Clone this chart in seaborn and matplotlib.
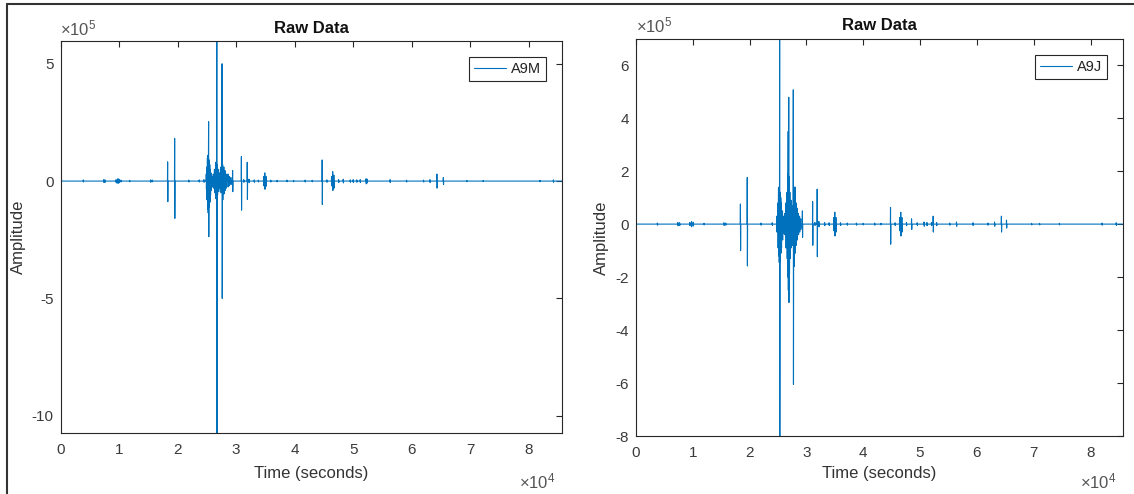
import numpy as np
import pandas as pd
import matplotlib
matplotlib.use("Agg")
import matplotlib.pyplot as plt
import seaborn as sns
from matplotlib.lines import Line2D

# ---------------- data (time in 1e4 s, amplitude in 1e5) ----------------
a9m_times = [0.39, 0.74, 0.76, 0.95, 0.98, 1.00, 1.03, 1.18, 1.54, 1.57, 1.83, 1.95, 2.19, 2.37, 2.45,
             2.49, 2.50, 2.51, 2.52, 2.53, 2.54, 2.55, 2.56, 2.57, 2.59, 2.61, 2.63, 2.65, 2.67, 2.68,
             2.70, 2.72, 2.74, 2.76, 2.77, 2.79, 2.81, 2.83, 2.86, 2.88, 2.91, 2.94,
             3.09, 3.13, 3.19, 3.22, 3.31, 3.38, 3.47, 3.49, 3.51, 3.59, 3.70, 3.87, 3.98, 4.18, 4.30,
             4.47, 4.55, 4.63, 4.65, 4.67, 4.75, 4.83, 4.95, 5.00, 5.06, 5.12, 5.22, 5.24, 5.63, 5.91,
             6.20, 6.31, 6.43, 6.54, 6.94, 7.22, 8.19, 8.42]
a9m_up = [0.05, 0.06, 0.05, 0.06, 0.10, 0.08, 0.04, 0.03, 0.05, 0.04, 0.82, 1.82, 0.04, 0.05, 0.06,
          0.30, 0.60, 1.00, 1.10, 2.53, 0.90, 0.70, 0.50, 0.35, 0.20, 0.30, 0.50, 0.80, 5.97, 0.70,
          0.50, 0.35, 0.60, 5.00, 0.70, 0.60, 0.45, 0.30, 0.30, 0.20, 0.15, 0.45,
          1.04, 0.06, 0.80, 0.08, 0.05, 0.04, 0.20, 0.35, 0.20, 0.04, 0.03, 0.04, 0.03, 0.04, 0.03,
          0.90, 0.05, 0.20, 0.40, 0.25, 0.06, 0.08, 0.05, 0.06, 0.05, 0.06, 0.10, 0.08, 0.06, 0.04,
          0.04, 0.06, 0.30, 0.15, 0.02, 0.02, 0.03, 0.05]
a9m_down = [-0.04, -0.06, -0.05, -0.08, -0.10, -0.07, -0.04, -0.03, -0.05, -0.03, -0.88, -1.59, -0.04, -0.04, -0.05,
            -0.35, -0.80, -1.20, -1.36, -2.37, -1.10, -0.90, -0.60, -0.40, -0.25, -0.30, -0.50, -0.75, -10.75, -0.60,
            -0.45, -0.30, -0.50, -5.00, -0.80, -0.55, -0.40, -0.30, -0.25, -0.20, -0.15, -0.45,
            -1.24, -0.05, -0.78, -0.07, -0.05, -0.04, -0.20, -0.35, -0.22, -0.04, -0.03, -0.03, -0.03, -0.04, -0.03,
            -1.00, -0.05, -0.20, -0.40, -0.30, -0.06, -0.08, -0.05, -0.06, -0.05, -0.06, -0.12, -0.08, -0.06, -0.04,
            -0.04, -0.06, -0.30, -0.15, -0.02, -0.02, -0.03, -0.05]

a9j_times = [0.38, 0.74, 0.77, 0.95, 0.98, 1.01, 1.20, 1.55, 1.58, 1.84, 1.96, 2.20, 2.40,
             2.48, 2.50, 2.51, 2.52, 2.53, 2.54, 2.55, 2.56, 2.58, 2.60, 2.62, 2.64, 2.66, 2.67, 2.68,
             2.69, 2.70, 2.71, 2.73, 2.75, 2.77, 2.78, 2.80, 2.82, 2.84, 2.86, 2.88, 2.90, 2.93,
             3.11, 3.15, 3.19, 3.22, 3.32, 3.40, 3.48, 3.50, 3.52, 3.60, 3.72, 3.88, 4.00, 4.20, 4.31,
             4.48, 4.56, 4.64, 4.66, 4.68, 4.76, 4.85, 4.95, 5.07, 5.12, 5.20, 5.23, 5.29, 5.52, 5.64,
             5.93, 6.19, 6.31, 6.43, 6.52, 6.96, 7.10, 7.45, 8.20, 8.45]
a9j_up = [0.04, 0.06, 0.05, 0.06, 0.10, 0.07, 0.03, 0.05, 0.04, 0.76, 1.76, 0.04, 0.05,
          0.30, 0.80, 1.39, 1.10, 7.00, 1.20, 1.00, 0.80, 0.50, 0.30, 0.40, 0.80, 1.20, 1.90, 3.50,
          4.79, 1.80, 1.20, 0.90, 0.70, 5.07, 1.40, 1.40, 0.80, 0.60, 0.40, 0.30, 0.20, 0.50,
          0.85, 0.06, 1.32, 0.10, 0.06, 0.05, 0.25, 0.45, 0.25, 0.05, 0.04, 0.04, 0.03, 0.04, 0.03,
          0.63, 0.05, 0.25, 0.45, 0.25, 0.06, 0.20, 0.05, 0.08, 0.06, 0.06, 0.30, 0.06, 0.04, 0.08,
          0.05, 0.04, 0.08, 0.30, 0.15, 0.03, 0.03, 0.03, 0.04, 0.05]
a9j_down = [-0.04, -0.06, -0.05, -0.06, -0.10, -0.07, -0.03, -0.05, -0.04, -1.00, -1.58, -0.04, -0.05,
            -0.30, -0.90, -1.20, -1.45, -8.00, -1.40, -1.10, -0.90, -0.60, -0.35, -0.40, -0.90, -1.30, -2.00, -2.50,
            -2.96, -1.90, -1.30, -0.90, -0.80, -6.05, -1.60, -1.10, -0.80, -0.60, -0.40, -0.30, -0.20, -0.50,
            -0.80, -0.05, -1.23, -0.10, -0.06, -0.05, -0.25, -0.45, -0.30, -0.05, -0.04, -0.04, -0.03, -0.04, -0.03,
            -0.76, -0.05, -0.25, -0.45, -0.30, -0.06, -0.20, -0.05, -0.08, -0.06, -0.06, -0.30, -0.06, -0.04, -0.08,
            -0.05, -0.04, -0.08, -0.30, -0.15, -0.03, -0.03, -0.03, -0.04, -0.05]

record_end = 8.56  # 1e4 s

x_ticks = [0, 1, 2, 3, 4, 5, 6, 7, 8]
x_tick_labels = ["0", "1", "2", "3", "4", "5", "6", "7", "8"]
a9m_yticks = [-10, -5, 0, 5]
a9m_yticklabels = ["-10", "-5", "0", "5"]
a9j_yticks = [-8, -6, -4, -2, 0, 2, 4, 6]
a9j_yticklabels = ["-8", "-6", "-4", "-2", "0", "2", "4", "6"]


def build_series(times, up, down, t_end):
    dt = 30.0
    xs, ys = [0.0], [0.0]
    for t, u, d in zip(times, up, down):
        t = t * 1e4
        xs += [t - dt, t, t + dt, t + 2 * dt]
        ys += [0.0, u * 1e5, d * 1e5, 0.0]
    xs.append(t_end * 1e4)
    ys.append(0.0)
    return pd.DataFrame({"Time": xs, "Amplitude": ys})


sns.set_style("white")
plt.rcParams["font.family"] = ["Liberation Sans", "DejaVu Sans"]
plt.rcParams["mathtext.fontset"] = "custom"
plt.rcParams["mathtext.rm"] = "Liberation Sans"
plt.rcParams["mathtext.it"] = "Liberation Sans"

W, H = 1134, 494
fig = plt.figure(figsize=(W / 100, H / 100), dpi=100)
fig.patch.set_facecolor("white")

BLUE = "#0072BD"
AXC = "#262626"

panels = [
    dict(df=build_series(a9m_times, a9m_up, a9m_down, record_end), name="A9M",
         rect=(60.5, 41.0, 561.6, 433.3), yt=a9m_yticks, ytl=a9m_yticklabels, ylab_dx=42.5),
    dict(df=build_series(a9j_times, a9j_up, a9j_down, record_end), name="A9J",
         rect=(635.8, 38.7, 1122.5, 436.0), yt=a9j_yticks, ytl=a9j_yticklabels, ylab_dx=34.0),
]

for p in panels:
    x0, y0, x1, y1 = p["rect"]
    ax = fig.add_axes([x0 / W, (H - y1) / H, (x1 - x0) / W, (y1 - y0) / H])
    df = p["df"]
    sns.lineplot(data=df, x="Time", y="Amplitude", ax=ax, color=BLUE, lw=0.8,
                 sort=False, estimator=None, label=p["name"])
    ax.set_xlim(0, record_end * 1e4)
    ax.set_ylim(df["Amplitude"].min(), df["Amplitude"].max())
    ax.set_xticks([v * 1e4 for v in x_ticks])
    ax.set_xticklabels(x_tick_labels)
    ax.set_yticks([v * 1e5 for v in p["yt"]])
    ax.set_yticklabels(p["ytl"])
    ax.tick_params(direction="in", length=4.5, width=0.8, colors=AXC, labelsize=11,
                   top=True, right=True, labelcolor="#3a3a3a")
    ax.tick_params(axis="x", pad=7)
    ax.tick_params(axis="y", pad=5)
    for s in ax.spines.values():
        s.set_visible(True)
        s.set_color(AXC)
        s.set_linewidth(0.8)
    ax.set_title("Raw Data", fontsize=12, fontweight="bold", color="#111111", pad=6)
    ax.set_xlabel("Time (seconds)", fontsize=12, color="#333333")
    ax.xaxis.set_label_coords(0.5, -(473 - y1) / (y1 - y0))
    ax.xaxis.label.set_va("center")
    ax.set_ylabel("Amplitude", fontsize=12, color="#333333")
    ax.yaxis.set_label_coords(-p["ylab_dx"] / (x1 - x0), 0.5)
    ax.yaxis.label.set_va("center")
    ax.text(0.0, 1.0 + 3 / (y1 - y0), r"$\times10^{5}$", transform=ax.transAxes,
            ha="left", va="bottom", fontsize=12, color="#555555")
    ax.text(1.0 - 6 / (x1 - x0), -(481 - y1) / (y1 - y0), r"$\times10^{4}$", transform=ax.transAxes,
            ha="right", va="center", fontsize=12, color="#555555")
    leg = ax.legend(loc="upper right",
                    bbox_to_anchor=(1 - 15.5 / (x1 - x0), 1 - 16 / (y1 - y0)),
                    borderaxespad=0, fontsize=10.5, frameon=True, fancybox=False,
                    handlelength=2.2, handletextpad=0.3, borderpad=0.35)
    leg.get_frame().set_edgecolor(AXC)
    leg.get_frame().set_linewidth(0.8)
    leg.get_frame().set_alpha(1)
    for t in leg.get_texts():
        t.set_color("#222222")

# outer frame lines of the figure
fig.add_artist(Line2D([7 / W, 7 / W], [0, 1 - 4 / H], transform=fig.transFigure, color="#333333", lw=1.5))
fig.add_artist(Line2D([7 / W, 1], [1 - 4 / H, 1 - 4 / H], transform=fig.transFigure, color="#333333", lw=1.5))

fig.savefig("out.png", dpi=100)
